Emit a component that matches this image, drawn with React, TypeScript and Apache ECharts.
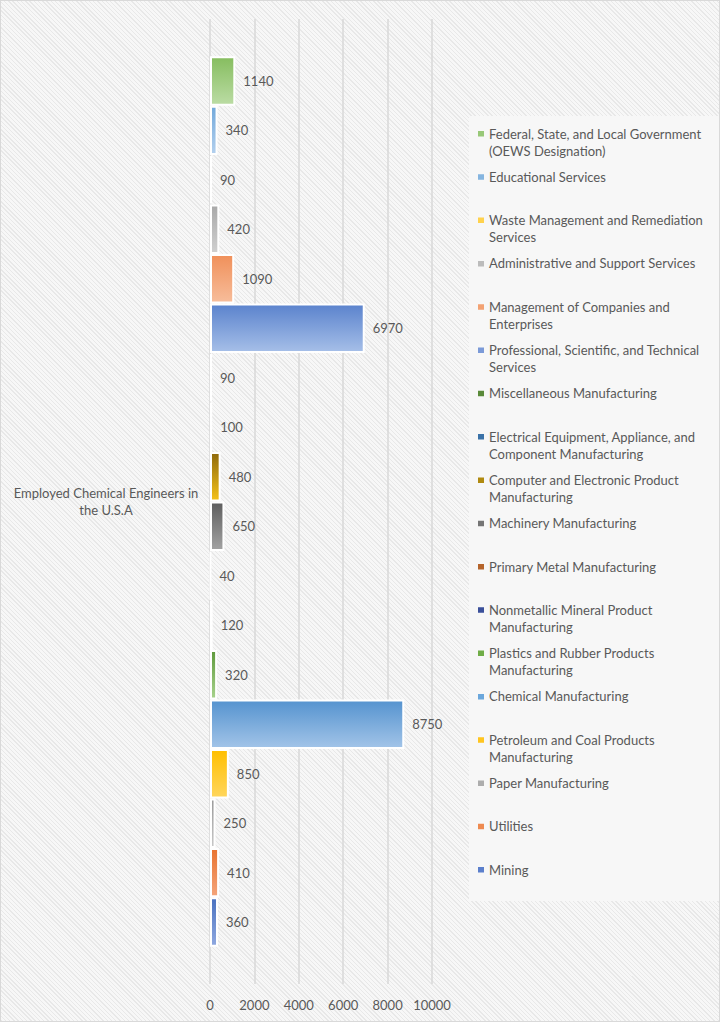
import React, { useEffect, useRef } from "react";
import * as echarts from "echarts";

const categories = ["Employed Chemical Engineers in the U.S.A"];
const categoryLabel = "Employed Chemical Engineers in\nthe U.S.A";

// Listed top to bottom (as in the legend)
const seriesNames = [
  "Federal, State, and Local Government (OEWS Designation)",
  "Educational Services",
  "Waste Management and Remediation Services",
  "Administrative and Support Services",
  "Management of Companies and Enterprises",
  "Professional, Scientific, and Technical Services",
  "Miscellaneous Manufacturing",
  "Electrical Equipment, Appliance, and Component Manufacturing",
  "Computer and Electronic Product Manufacturing",
  "Machinery Manufacturing",
  "Primary Metal Manufacturing",
  "Nonmetallic Mineral Product Manufacturing",
  "Plastics and Rubber Products Manufacturing",
  "Chemical Manufacturing",
  "Petroleum and Coal Products Manufacturing",
  "Paper Manufacturing",
  "Utilities",
  "Mining",
];

const legendLabels = [
  "Federal, State, and Local Government\n(OEWS Designation)",
  "Educational Services",
  "Waste Management and Remediation\nServices",
  "Administrative and Support Services",
  "Management of Companies and\nEnterprises",
  "Professional, Scientific, and Technical\nServices",
  "Miscellaneous Manufacturing",
  "Electrical Equipment, Appliance, and\nComponent Manufacturing",
  "Computer and Electronic Product\nManufacturing",
  "Machinery Manufacturing",
  "Primary Metal Manufacturing",
  "Nonmetallic Mineral Product\nManufacturing",
  "Plastics and Rubber Products\nManufacturing",
  "Chemical Manufacturing",
  "Petroleum and Coal Products\nManufacturing",
  "Paper Manufacturing",
  "Utilities",
  "Mining",
];

const seriesValues = [1140, 340, 90, 420, 1090, 6970, 90, 100, 480, 650, 40, 120, 320, 8750, 850, 250, 410, 360];

const topColors = [
  "#86bd5f", "#72a9db", "#ffcd33", "#a9a9a9", "#f0905a", "#5b83cd",
  "#43682b", "#255e91", "#8f6a0c", "#5e5e5e", "#9e480e", "#2b3f8a",
  "#5f9a3c", "#5593cf", "#ffbf00", "#9a9a9a", "#e9732f", "#4a72c0",
];
const bottomColors = [
  "#bbdca4", "#b3d0ee", "#ffe08a", "#d0d0d0", "#f7bd9b", "#a6bfe8",
  "#8cc168", "#6b9bd0", "#f5c21a", "#a3a3a3", "#d9834c", "#8e9bd0",
  "#a8d38d", "#a2c4e8", "#ffd65c", "#c8c8c8", "#f4a47a", "#8fa8e0",
];
const legendColors = [
  "#98c878", "#85b5e0", "#ffd24d", "#bcbcbc", "#f3a273", "#7b9ad8",
  "#5a8a3a", "#3a72a8", "#b08a10", "#757575", "#b5642b", "#3a4f9a",
  "#70ad47", "#6ba7dc", "#ffc51f", "#adadad", "#ee8a50", "#5b7fcc",
];

const xMin = 0;
const xMax = 10000;
const xInterval = 2000;

const FONT = "Lato, 'Open Sans', sans-serif";
const TEXT = "#595959";

export default function App() {
  const ref = useRef<HTMLDivElement>(null);

  useEffect(() => {
    if (!ref.current) return;
    const chart = echarts.init(ref.current, undefined, { renderer: "svg" });
    const series = seriesNames.map((name, i) => ({
      name,
      type: "bar",
      data: [seriesValues[i]],
      barGap: "0%",
      barCategoryGap: "7.7%",
      itemStyle: {
        color: new echarts.graphic.LinearGradient(0, 0, 0, 1, [
          { offset: 0, color: topColors[i] },
          { offset: 1, color: bottomColors[i] },
        ]),
        borderColor: "#ffffff",
        borderWidth: 2,
      },
      label: {
        show: true,
        position: "right",
        distance: 8,
        color: TEXT,
        fontSize: 13,
        fontFamily: FONT,
      },
    }));

    const legendData = seriesNames.map((name, i) => ({
      name,
      itemStyle: { color: legendColors[i], borderWidth: 0, borderColor: "transparent" },
    }));

    chart.setOption({
      animation: false,
      backgroundColor: "transparent",
      textStyle: { fontFamily: FONT },
      grid: { left: 209, right: 287, top: 18, bottom: 37, containLabel: false },
      xAxis: {
        type: "value",
        min: xMin,
        max: xMax,
        interval: xInterval,
        axisLine: { show: false },
        axisTick: { show: false },
        splitLine: { show: true, lineStyle: { color: "#d9d9d9", width: 1.5 } },
        axisLabel: {
          color: TEXT,
          fontSize: 13,
          fontFamily: FONT,
          margin: 14,
          formatter: (v: number) => String(v),
        },
      },
      yAxis: {
        type: "category",
        data: categories,
        axisLine: { show: false },
        axisTick: { show: false },
        splitLine: { show: false },
        axisLabel: {
          color: TEXT,
          fontSize: 13,
          fontFamily: FONT,
          lineHeight: 17,
          align: "center",
          margin: 104,
          formatter: () => categoryLabel,
        },
      },
      legend: {
        orient: "vertical",
        left: 468,
        top: 115,
        width: 250,
        padding: [9, 20, 6, 9],
        backgroundColor: "#f7f7f7",
        itemGap: 9.3,
        itemWidth: 6,
        itemHeight: 34,
        icon: "path://M0,0h0.01v0.01h-0.01z M0,6h6v5.5h-6z M0,34h0.01v-0.01h-0.01z",
        data: legendData,
        formatter: (name: string) => {
          const lbl = legendLabels[seriesNames.indexOf(name)];
          return lbl.indexOf("\n") >= 0 ? lbl : lbl + "\n\u00a0";
        },
        textStyle: { color: TEXT, fontSize: 13, lineHeight: 17, fontFamily: FONT },
        selectedMode: false,
      },
      series,
    });
    return () => chart.dispose();
  }, []);

  return (
    <div
      ref={ref}
      style={{
        position: "absolute",
        left: 0,
        top: 0,
        width: 720,
        height: 1022,
        boxSizing: "border-box",
        border: "1px solid #d9d9d9",
        background:
          "repeating-linear-gradient(45deg, #e8e8e8 0px, #e8e8e8 1px, #f7f7f7 1px, #f7f7f7 3px)",
      }}
    />
  );
}
